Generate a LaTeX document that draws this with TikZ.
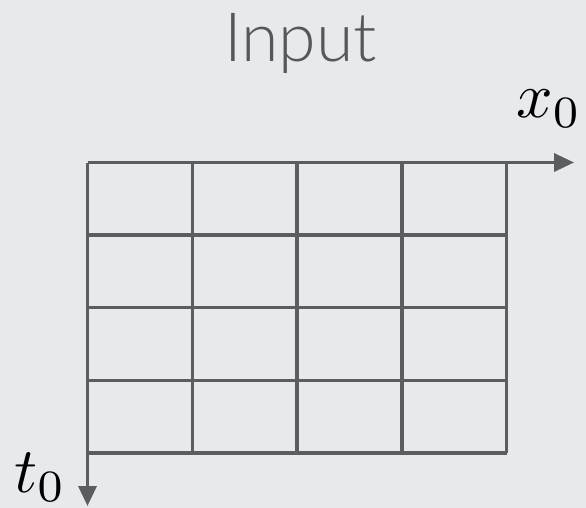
\documentclass[tikz,border=0pt]{standalone}
\usepackage[no-math]{fontspec}
\newfontfamily\thinfont{Lato}[UprightFont=* Light]
\usetikzlibrary{arrows.meta}

\definecolor{bgcol}{HTML}{E7E9EC}
\definecolor{gridcol}{HTML}{5A5E5F}
\definecolor{textcol}{HTML}{555759}

\newcommand{\biglabel}[1]{\scalebox{6.4}{$#1$}}

\begin{document}
\begin{tikzpicture}[
    x=1pt, y=-1pt,
    gridline/.style={draw=gridcol, line width=3.4pt},
    axis/.style={gridline, -{Triangle[length=20pt, width=18pt]}},
    title/.style={text=textcol, font=\thinfont\fontsize{68}{68}\selectfont, inner sep=0pt, anchor=base},
    mathlabel/.style={text=black, inner sep=0pt}
]
    \fill[bgcol] (0,0) rectangle (586,508);
    \useasboundingbox (0,0) rectangle (586,508);

    % corner of the grid and axis ends
    \coordinate (origin) at (87.5,162.5);
    \coordinate (xend) at (574,162.5);
    \coordinate (tend) at (87.5,506);

    % 4x4 cells
    \foreach \i in {1,...,4} {
        \draw[gridline] (87.5+\i*104.8,162.5) -- (87.5+\i*104.8,453);
        \draw[gridline] (87.5,162.5+\i*72.6) -- (506.7,162.5+\i*72.6);
    }

    \draw[axis] (origin) -- (xend);
    \draw[axis] (origin) -- (tend);

    \node[title] (input) at (300.5,62) {Input};
    \node[mathlabel, anchor=base west] (xlab) at (516,118) {\biglabel{x_0}};
    \node[mathlabel, anchor=base west] (tlab) at (14,492) {\biglabel{t_0}};
\end{tikzpicture}
\end{document}
